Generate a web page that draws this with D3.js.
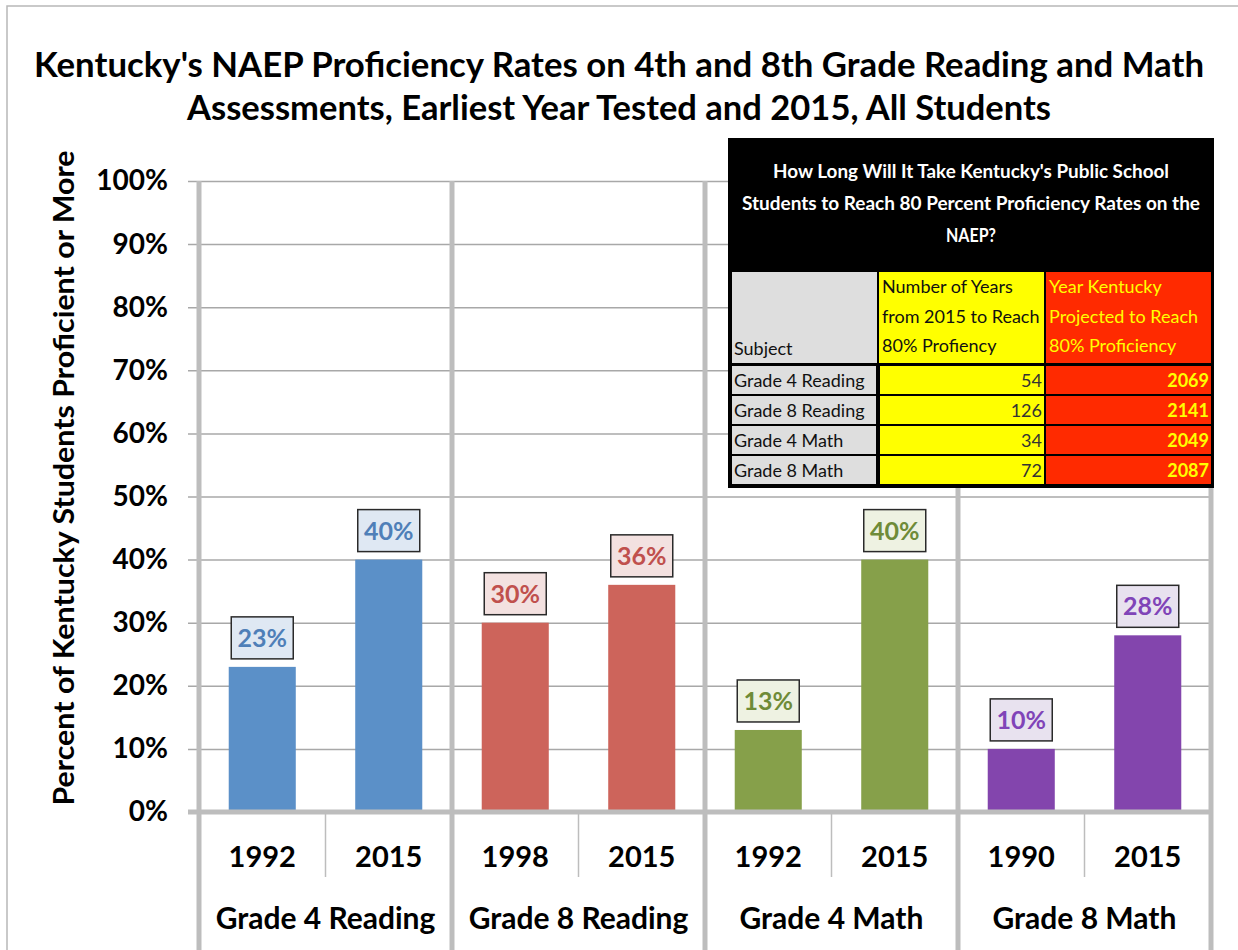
<!DOCTYPE html>
<html>
<head>
<meta charset="utf-8">
<script src="https://cdn.jsdelivr.net/npm/d3@7"></script>
<style>
  body { margin: 0; background: #fff; }
  svg text { font-family: Lato, "Open Sans", sans-serif; }
</style>
</head>
<body>
<svg id="chart" width="1238" height="950"></svg>
<script>

// chart data
const groups = ["Grade 4 Reading", "Grade 8 Reading", "Grade 4 Math", "Grade 8 Math"];
const earlyYears = ["1992", "1998", "1992", "1990"];
const lateYears = ["2015", "2015", "2015", "2015"];
const earlyValues = [23, 30, 13, 10];
const lateValues = [40, 36, 40, 28];
const yTicks = [0, 10, 20, 30, 40, 50, 60, 70, 80, 90, 100];

// table data
const tableTitle = ["How Long Will It Take Kentucky's Public School",
                    "Students to Reach 80 Percent Proficiency Rates on the",
                    "NAEP?"];
const yearsHead = ["Number of Years", "from 2015 to Reach", "80% Profiency"];
const projHead = ["Year Kentucky", "Projected to Reach", "80% Proficiency"];
const yearsToReach = [54, 126, 34, 72];
const yearReached = [2069, 2141, 2049, 2087];

const barColors = ["#5b90c8", "#cd645b", "#86a04a", "#8345ad"];
const boxFills = ["#dfe8f3", "#f3e1e0", "#eef2e2", "#e8e2ef"];
const labelColors = ["#4f7fb8", "#c0504d", "#6f8b38", "#8044b8"];

// flatten into bar rows
const bars = [];
groups.forEach(function(g, i) {
    bars.push({ group: g, gi: i, slot: 0, year: earlyYears[i], value: earlyValues[i] });
    bars.push({ group: g, gi: i, slot: 1, year: lateYears[i], value: lateValues[i] });
});

const svg = d3.select("#chart");

const plotLeft = 199, plotRight = 1211, plotTop = 181, plotBottom = 812;

const x0 = d3.scaleBand().domain(groups).range([plotLeft, plotRight]).padding(0);
const x1 = d3.scaleBand().domain([0, 1]).range([0, x0.bandwidth()])
    .paddingInner(0.47).paddingOuter(0.235);
const xCat = d3.scaleBand().domain([0, 1]).range([0, x0.bandwidth()]);
const y = d3.scaleLinear().domain([0, 100]).range([plotBottom, plotTop]);

// outer frame
svg.append("rect")
.attr("x", 7).attr("y", 6)
.attr("width", 1260).attr("height", 980)
.attr("fill", "none")
.attr("stroke", "#b8b8b8")
.attr("stroke-width", 1.5);

// title
const titleLines = ["Kentucky's NAEP Proficiency Rates on 4th and 8th Grade Reading and Math",
                    "Assessments, Earliest Year Tested and 2015, All Students"];
const titleWidths = [1170, 864];
svg.selectAll(".title")
.data(titleLines)
.enter()
.append("text")
.attr("class", "title")
.attr("x", 619)
.attr("y", function(d, i) { return 77 + i * 43; })
.attr("text-anchor", "middle")
.attr("textLength", function(d, i) { return titleWidths[i]; })
.attr("lengthAdjust", "spacingAndGlyphs")
.style("font-size", "35px")
.style("font-weight", "bold")
.style("fill", "#000")
.text(function(d) { return d; });

// y axis with gridlines
const yAxis = d3.axisLeft(y)
    .tickValues(yTicks)
    .tickFormat(function(d) { return d + "%"; })
    .tickSizeInner(-(plotRight - 188))
    .tickSizeOuter(0)
    .tickPadding(20);

const yG = svg.append("g")
.attr("transform", "translate(188,0)")
.call(yAxis);

yG.select(".domain").remove();
yG.selectAll(".tick line")
.attr("stroke", "#a8a8a8")
.attr("stroke-width", 1.5);
yG.selectAll(".tick text")
.style("font-size", "28px")
.style("font-weight", "bold")
.style("fill", "#000");

// y axis title
svg.append("text")
.attr("transform", "translate(74," + 478 + ") rotate(-90)")
.attr("text-anchor", "middle")
.attr("textLength", 655)
.attr("lengthAdjust", "spacingAndGlyphs")
.style("font-size", "28px")
.style("font-weight", "bold")
.style("fill", "#000")
.text("Percent of Kentucky Students Proficient or More");

// bars
svg.selectAll(".bar")
.data(bars)
.enter()
.append("rect")
.attr("class", "bar")
.attr("x", function(d) { return x0(d.group) + x1(d.slot); })
.attr("y", function(d) { return y(d.value); })
.attr("width", x1.bandwidth())
.attr("height", function(d) { return y(0) - y(d.value); })
.attr("fill", function(d) { return barColors[d.gi]; });

// thick axis lines
svg.append("line")
.attr("x1", 188).attr("x2", plotRight)
.attr("y1", y(0)).attr("y2", y(0))
.attr("stroke", "#bdbdbd")
.attr("stroke-width", 5);

const dividers = groups.map(function(g) { return x0(g); }).concat([plotRight]);
svg.selectAll(".divider")
.data(dividers)
.enter()
.append("line")
.attr("class", "divider")
.attr("x1", function(d) { return d; })
.attr("x2", function(d) { return d; })
.attr("y1", plotTop)
.attr("y2", 950)
.attr("stroke", "#bdbdbd")
.attr("stroke-width", 5);

// thin lines between the two years of a group
svg.selectAll(".subdiv")
.data(groups)
.enter()
.append("line")
.attr("class", "subdiv")
.attr("x1", function(d) { return x0(d) + xCat.step(); })
.attr("x2", function(d) { return x0(d) + xCat.step(); })
.attr("y1", y(0))
.attr("y2", 877)
.attr("stroke", "#bdbdbd")
.attr("stroke-width", 1.5);

// year labels
svg.selectAll(".yearlab")
.data(bars)
.enter()
.append("text")
.attr("class", "yearlab")
.attr("x", function(d) { return x0(d.group) + xCat(d.slot) + xCat.bandwidth() / 2; })
.attr("y", 867)
.attr("text-anchor", "middle")
.style("font-size", "29px")
.style("font-weight", "bold")
.style("fill", "#000")
.text(function(d) { return d.year; });

// group labels
svg.selectAll(".grouplab")
.data(groups)
.enter()
.append("text")
.attr("class", "grouplab")
.attr("x", function(d) { return x0(d) + x0.bandwidth() / 2; })
.attr("y", 929)
.attr("text-anchor", "middle")
.style("font-size", "30px")
.style("font-weight", "bold")
.style("fill", "#000")
.text(function(d) { return d; });

// value label boxes
const labels = svg.selectAll(".vlab")
.data(bars)
.enter()
.append("g")
.attr("class", "vlab")
.attr("transform", function(d) {
    return "translate(" + (x0(d.group) + x1(d.slot) + x1.bandwidth() / 2) + "," + (y(d.value) - 29) + ")";
});

labels.append("rect")
.attr("x", -31)
.attr("y", -21)
.attr("width", 62)
.attr("height", 42)
.attr("fill", function(d) { return boxFills[d.gi]; })
.attr("stroke", "#2a2a2a")
.attr("stroke-width", 1.5);

labels.append("text")
.attr("y", 9)
.attr("text-anchor", "middle")
.style("font-size", "25px")
.style("font-weight", "bold")
.style("fill", function(d) { return labelColors[d.gi]; })
.text(function(d) { return d.value + "%"; });

// ---- table overlay ----
const tx = 728, tw = 486, ty = 138;
const colX = [732, 879, 1046];
const colW = [145, 165, 165];
const headY = 272, headH = 91;
const rowY0 = 366, rowH = 30;

const table = svg.append("g");

table.append("rect")
.attr("x", tx).attr("y", ty)
.attr("width", tw).attr("height", 350)
.attr("fill", "#000");

const tableTitleWidths = [396, 458, 50];
table.selectAll(".ttitle")
.data(tableTitle)
.enter()
.append("text")
.attr("x", tx + tw / 2)
.attr("y", function(d, i) { return 178 + i * 32; })
.attr("text-anchor", "middle")
.attr("textLength", function(d, i) { return tableTitleWidths[i]; })
.attr("lengthAdjust", "spacingAndGlyphs")
.style("font-size", "19px")
.style("font-weight", "bold")
.style("fill", "#fff")
.text(function(d) { return d; });

// header cells
const headFills = ["#dedede", "#ffff00", "#ff2a00"];
table.selectAll(".hcell")
.data(headFills)
.enter()
.append("rect")
.attr("x", function(d, i) { return colX[i]; })
.attr("y", headY)
.attr("width", function(d, i) { return colW[i]; })
.attr("height", headH)
.attr("fill", function(d) { return d; });

table.append("text")
.attr("x", colX[0] + 2)
.attr("y", 355)
.style("font-size", "18px")
.style("fill", "#111")
.text("Subject");

table.selectAll(".yhead")
.data(yearsHead)
.enter()
.append("text")
.attr("x", colX[1] + 3)
.attr("y", function(d, i) { return 293 + i * 29.5; })
.style("font-size", "18px")
.style("fill", "#111")
.text(function(d) { return d; });

table.selectAll(".phead")
.data(projHead)
.enter()
.append("text")
.attr("x", colX[2] + 3)
.attr("y", function(d, i) { return 293 + i * 29.5; })
.style("font-size", "18px")
.style("fill", "#ffff00")
.text(function(d) { return d; });

// body rows
const rows = table.selectAll(".trow")
.data(groups)
.enter()
.append("g")
.attr("transform", function(d, i) { return "translate(0," + (rowY0 + i * rowH) + ")"; });

rows.append("rect")
.attr("x", colX[0]).attr("width", colW[0] - 1)
.attr("height", rowH - 2)
.attr("fill", "#dedede");
rows.append("rect")
.attr("x", colX[1] + 1).attr("width", colW[1] - 1)
.attr("height", rowH - 2)
.attr("fill", "#ffff00");
rows.append("rect")
.attr("x", colX[2]).attr("width", colW[2])
.attr("height", rowH - 2)
.attr("fill", "#ff2a00");

rows.append("text")
.attr("x", colX[0] + 2)
.attr("y", 21)
.style("font-size", "18px")
.style("fill", "#111")
.text(function(d) { return d; });

rows.append("text")
.attr("x", colX[1] + colW[1] - 2)
.attr("y", 21)
.attr("text-anchor", "end")
.style("font-size", "18px")
.style("fill", "#333")
.text(function(d, i) { return yearsToReach[i]; });

rows.append("text")
.attr("x", colX[2] + colW[2] - 2)
.attr("y", 21)
.attr("text-anchor", "end")
.style("font-size", "18px")
.style("font-weight", "bold")
.style("fill", "#ffff00")
.text(function(d, i) { return yearReached[i]; });

</script>
</body>
</html>
